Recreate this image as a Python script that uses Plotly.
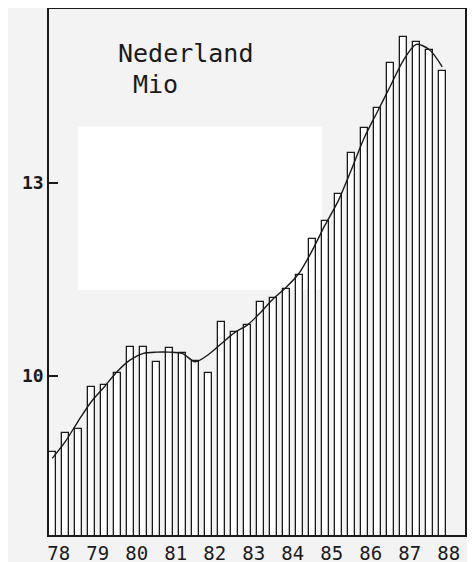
import plotly.graph_objects as go

# population, millions, three readings per year (1978 - 1988)
bar_values = [8.82, 9.11, 9.17, 9.83, 9.86, 10.04, 10.45, 10.45, 10.22, 10.43,
              10.36, 10.24, 10.04, 10.84, 10.69, 10.79, 11.15, 11.21, 11.35, 11.57,
              12.12, 12.40, 12.82, 13.46, 13.85, 14.16, 14.86, 15.27, 15.19, 15.06,
              14.73]
# smoothed trend drawn over the bars
trend_values = [8.72, 8.98, 9.30, 9.60, 9.83, 10.07, 10.25, 10.35, 10.37, 10.37,
                10.35, 10.22, 10.33, 10.50, 10.67, 10.79, 10.98, 11.20, 11.38, 11.60,
                11.95, 12.35, 12.72, 13.20, 13.70, 14.10, 14.50, 14.90, 15.15, 15.07,
                14.80]
year_labels = ['78', '79', '80', '81', '82', '83', '84', '85', '86', '87', '88']
y_ticks = [10, 13]
y_tick_text = ['10', '13']

idx = list(range(len(bar_values)))
tick_pos = [3 * i + 0.5 for i in range(len(year_labels))]

fig = go.Figure()
fig.add_trace(go.Bar(x=idx, y=bar_values, base=0, width=0.5,
                     marker=dict(color='white', line=dict(color='#1a1a1a', width=1.3)),
                     showlegend=False))
fig.add_trace(go.Scatter(x=idx, y=trend_values, mode='lines',
                         line=dict(color='#1a1a1a', width=1.4, shape='spline', smoothing=0.8),
                         showlegend=False))

# white patch from the scanned page
fig.add_shape(type='rect', xref='paper', yref='paper', x0=0.07, x1=0.656, y0=0.466, y1=0.776,
              fillcolor='white', line_width=0, layer='below')

fig.add_annotation(text='Nederland', xref='paper', yref='paper', x=0.161, y=0.947,
                   xanchor='left', yanchor='top', showarrow=False,
                   font=dict(family='DejaVu Sans Mono', size=25, color='#1a1a1a'))
fig.add_annotation(text='Mio', xref='paper', yref='paper', x=0.197, y=0.888,
                   xanchor='left', yanchor='top', showarrow=False,
                   font=dict(family='DejaVu Sans Mono', size=25, color='#1a1a1a'))

# page body adds an 8px offset, so margins are shifted to match
fig.update_layout(width=475, height=562,
                  margin=dict(l=41, r=18, t=1, b=35),
                  paper_bgcolor='#f3f3f3', plot_bgcolor='#f3f3f3',
                  bargap=0)
fig.update_xaxes(range=[-0.25, 31.75], tickvals=tick_pos, ticktext=year_labels,
                 showgrid=False, zeroline=False, showline=True, linecolor='#1a1a1a',
                 linewidth=1.5, mirror=True, ticks='', automargin=False,
                 tickfont=dict(family='DejaVu Sans Mono', size=19, color='#1a1a1a'))
fig.update_yaxes(range=[7.53, 15.70], tickvals=y_ticks, ticktext=y_tick_text,
                 showgrid=False, zeroline=False, showline=True, linecolor='#1a1a1a',
                 linewidth=1.5, mirror=True, ticks='inside', ticklen=9, tickwidth=1.5,
                 tickcolor='#1a1a1a', automargin=False,
                 tickfont=dict(family='DejaVu Sans Mono', size=18, color='#1a1a1a', weight='bold'))

fig.write_html("out.html")
